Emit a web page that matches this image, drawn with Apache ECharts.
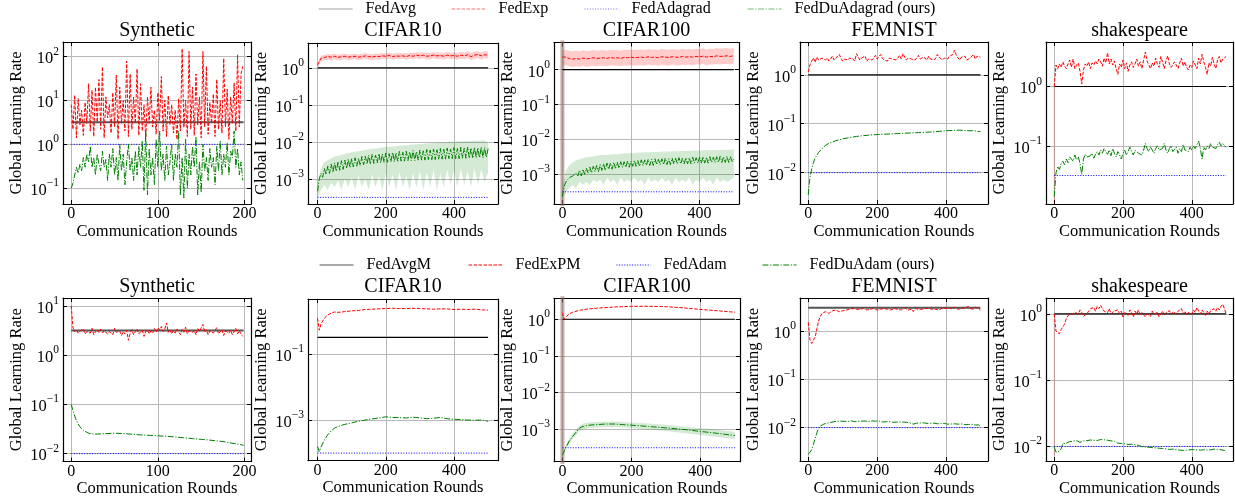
<!DOCTYPE html>
<html><head><meta charset="utf-8">
<script src="https://cdn.jsdelivr.net/npm/echarts@6/dist/echarts.min.js"></script>
<style>html,body{margin:0;padding:0;background:#fff}#c{width:1235px;height:504px}</style>
</head><body><div id="c"></div>
<script>
// ================= DATA =================
const titles = ['Synthetic','CIFAR10','CIFAR100','FEMNIST','shakespeare','Synthetic','CIFAR10','CIFAR100','FEMNIST','shakespeare'];
const namesTop = ['FedAvg','FedExp','FedAdagrad','FedDuAdagrad (ours)'];
const namesBottom = ['FedAvgM','FedExPM','FedAdam','FedDuAdam (ours)'];
const lastRound = [199, 500, 500, 500, 500, 199, 500, 500, 500, 500];
// constant-rate methods (per panel)
const avgRate = [3.16, 1, 1, 1, 1, 3.16, 0.316, 1, 3.0, 1];
const adaRate = [1, 0.000316, 0.000316, 0.01, 0.0316, 0.01, 0.0001, 0.000316, 0.01, 0.01];

// --- Synthetic (top), every 2 rounds
const synA_exp = [8,2.2,13,1.4,11,2.8,6,1.6,9,3, 24,2,17,1.5,20,3.2,30,2.2,58,1.4, 12,4,8,1.8,15,2.5,38,1.3,20,3,
 10,2,78,1.5,40,2.2,12,3,52,1.6, 24,2,8,1.4,12,3,20,2.5,6,1.7, 15,3.5,35,2,10,1.5,13,2.8,8,1.8,
 6,1.3,11,2,150,2.4,10,1.5,130,2.2, 20,1.6,40,2.8,12,1.4,130,2.5,60,1.7, 9,3,14,1.5,30,2.2,10,1.8,90,2.5,
 18,1.3,12,3,25,2,110,2.5,40,60];
const synA_du = [0.1,0.13,0.2,0.3,0.22,0.35,0.25,0.5,0.3,0.6, 0.4,0.9,0.3,0.5,0.2,0.6,0.35,0.25,0.7,0.3,
 0.45,0.15,0.6,0.3,0.8,0.2,0.5,0.15,1.0,0.25, 0.6,0.12,0.4,1.0,0.25,0.5,0.15,0.7,0.2,0.9,
 0.3,1.2,0.09,2.0,0.07,0.8,0.2,0.5,0.12,1.3, 0.3,2.0,0.25,0.6,0.15,0.9,0.2,0.4,1.0,0.15,
 0.6,0.3,2.0,0.07,0.5,0.06,1.3,0.1,0.6,0.2, 0.9,0.3,1.5,0.07,0.4,0.08,1.0,0.25,0.5,0.15,
 0.8,0.3,0.5,0.12,0.9,0.25,1.2,0.2,0.6,0.3, 1.1,0.2,0.7,0.5,2.0,0.3,0.8,0.2,0.4,0.15];

// --- CIFAR10 (top): FedExp every 10 rounds, FedDuAdagrad every 5 rounds, bands every 10
const c10A_exp = [1.2,1.8,1.9,2.0,1.95,2.05,1.9,2.0,2.05,1.95, 2.0,2.05,1.95,2.0,2.1,2.0,1.95,2.05,2.0,2.1,
 2.05,2.15,2.0,2.1,2.05,2.1,2.0,2.15,2.05,2.2, 2.1,2.2,2.05,2.1,2.2,2.1,2.15,2.05,2.2,2.1,
 2.15,2.05,2.2,2.1,2.25,2.0,2.2,2.3,2.1,2.25, 2.2];
const c10A_expLo = [1.0,1.5,1.6,1.65,1.6,1.7,1.6,1.65,1.7,1.6, 1.65,1.7,1.6,1.65,1.75,1.65,1.6,1.7,1.65,1.75,
 1.7,1.75,1.65,1.7,1.7,1.75,1.65,1.75,1.7,1.8, 1.7,1.8,1.65,1.7,1.8,1.7,1.75,1.65,1.8,1.7,
 1.75,1.65,1.75,1.7,1.8,1.6,1.75,1.8,1.65,1.8, 1.75];
const c10A_expHi = [1.4,2.1,2.2,2.35,2.3,2.4,2.25,2.35,2.4,2.3, 2.35,2.4,2.3,2.4,2.5,2.4,2.35,2.45,2.4,2.5,
 2.45,2.55,2.4,2.5,2.45,2.5,2.45,2.6,2.5,2.65, 2.55,2.65,2.5,2.55,2.65,2.55,2.6,2.5,2.7,2.55,
 2.6,2.5,2.7,2.6,2.8,2.5,2.75,2.85,2.6,2.8, 2.75];
const c10A_du = [0.00046,0.0010,0.0014,0.0011,0.0019,0.0013,0.0022,0.0014,0.0025,0.0015,
 0.0027,0.0016,0.0029,0.0017,0.0031,0.0018,0.0032,0.0019,0.0034,0.0020,
 0.0035,0.0021,0.0037,0.0022,0.0036,0.0023,0.0040,0.0024,0.0041,0.0025,
 0.0043,0.0025,0.0046,0.0026,0.0044,0.0027,0.0048,0.0027,0.0047,0.0028,
 0.0050,0.0028,0.0048,0.0029,0.0052,0.0029,0.0050,0.0030,0.0055,0.0030,
 0.0052,0.0030,0.0056,0.0031,0.0054,0.0031,0.0058,0.0031,0.0055,0.0032,
 0.0060,0.0032,0.0057,0.0032,0.0062,0.0033,0.0060,0.0033,0.0064,0.0033,
 0.0061,0.0034,0.0066,0.0034,0.0063,0.0034,0.0068,0.0035,0.0064,0.0035,
 0.0070,0.0035,0.0066,0.0035,0.0071,0.0036,0.0067,0.0036,0.0072,0.0036,
 0.0068,0.0036,0.0071,0.0037,0.0069,0.0037,0.0072,0.0037,0.0070,0.0038, 0.0066];
const c10A_duLo = [0.0003,0.0005,0.0007,0.0005,0.0008,0.0006,0.0009,0.0005,0.0010,0.0006,
 0.0011,0.0005,0.0012,0.0006,0.0010,0.0005,0.0013,0.0006,0.0012,0.0005,
 0.0014,0.0006,0.0013,0.0005,0.0015,0.0006,0.0012,0.0005,0.0014,0.0006,
 0.0016,0.0005,0.0015,0.0006,0.0017,0.0005,0.0014,0.0006,0.0018,0.0007,
 0.0017,0.0006,0.0019,0.0007,0.0016,0.0006,0.0019,0.0007,0.0018,0.0008, 0.0015];
const c10A_duHi = [0.0007,0.0020,0.0028,0.0032,0.0036,0.0040,0.0042,0.0045,0.0047,0.0050,
 0.0052,0.0055,0.0056,0.0058,0.0060,0.0063,0.0064,0.0066,0.0068,0.0070,
 0.0072,0.0073,0.0075,0.0076,0.0078,0.0080,0.0081,0.0083,0.0084,0.0086,
 0.0088,0.0089,0.0090,0.0092,0.0093,0.0095,0.0096,0.0097,0.0098,0.0100,
 0.0101,0.0102,0.0103,0.0104,0.0105,0.0106,0.0107,0.0107,0.0108,0.0108, 0.0095];

// --- CIFAR100 (top)
const c100A_exp = [2.3,2.3,2.1,2.0,2.1,2.0,2.15,2.05,2.1,2.2, 2.1,2.15,2.2,2.1,2.25,2.15,2.2,2.1,2.25,2.2,
 2.3,2.2,2.25,2.3,2.2,2.35,2.25,2.3,2.2,2.35, 2.3,2.25,2.35,2.3,2.25,2.4,2.3,2.35,2.3,2.4,
 2.35,2.45,2.3,2.4,2.35,2.5,2.4,2.45,2.5,2.4, 2.55];
const c100A_expLo = [1.35,1.35,1.25,1.2,1.25,1.2,1.3,1.2,1.25,1.3, 1.25,1.3,1.3,1.25,1.35,1.3,1.3,1.25,1.35,1.3,
 1.35,1.3,1.35,1.35,1.3,1.4,1.35,1.35,1.3,1.4, 1.35,1.3,1.4,1.35,1.3,1.4,1.35,1.4,1.35,1.4,
 1.4,1.45,1.35,1.4,1.4,1.45,1.4,1.45,1.45,1.4, 1.5];
const c100A_expHi = [3.6,3.7,3.5,3.4,3.5,3.4,3.6,3.45,3.5,3.7, 3.5,3.6,3.7,3.5,3.75,3.6,3.7,3.5,3.75,3.7,
 3.8,3.7,3.75,3.8,3.7,3.9,3.75,3.8,3.7,3.9, 3.8,3.75,3.9,3.8,3.75,4.0,3.8,3.9,3.8,4.0,
 3.9,4.1,3.8,4.0,3.9,4.2,4.0,4.1,4.2,4.0, 4.3];
const c100A_du = [0.00023,0.00045,0.0006,0.0007,0.0008,0.00075,0.0009,0.0008,0.0011,0.0009,
 0.0013,0.0009,0.0014,0.0010,0.0015,0.0011,0.0016,0.0011,0.0017,0.0012,
 0.0018,0.0012,0.0019,0.0013,0.0020,0.0013,0.0021,0.0014,0.0021,0.0014,
 0.0022,0.0015,0.0022,0.0015,0.0023,0.0016,0.0023,0.0016,0.0024,0.0016,
 0.0024,0.0017,0.0025,0.0017,0.0025,0.0017,0.0026,0.0018,0.0026,0.0018,
 0.0027,0.0018,0.0027,0.0018,0.0028,0.0019,0.0027,0.0019,0.0028,0.0019,
 0.0029,0.0019,0.0028,0.0019,0.0029,0.0020,0.0029,0.0020,0.0030,0.0020,
 0.0029,0.0020,0.0030,0.0020,0.0030,0.0020,0.0031,0.0021,0.0030,0.0021,
 0.0031,0.0021,0.0032,0.0021,0.0031,0.0021,0.0032,0.0022,0.0031,0.0022,
 0.0032,0.0022,0.0033,0.0022,0.0032,0.0022,0.0033,0.0022,0.0032,0.0023, 0.0027];
const c100A_duLo = [0.0002,0.0003,0.0004,0.0005,0.0004,0.0006,0.0005,0.0006,0.0005,0.0007,
 0.0006,0.0007,0.0005,0.0008,0.0006,0.0007,0.0005,0.0008,0.0006,0.0007,
 0.0006,0.0008,0.0006,0.0007,0.0005,0.0008,0.0006,0.0007,0.0006,0.0008,
 0.0006,0.0007,0.0005,0.0008,0.0006,0.0007,0.0006,0.0008,0.0005,0.0007,
 0.0006,0.0008,0.0006,0.0007,0.0005,0.0008,0.0006,0.0007,0.0006,0.0007, 0.0008];
const c100A_duHi = [0.0004,0.0013,0.0018,0.0022,0.0025,0.0027,0.0029,0.0031,0.0032,0.0033,
 0.0034,0.0035,0.0036,0.0036,0.0037,0.0038,0.0038,0.0039,0.0040,0.0040,
 0.0041,0.0041,0.0042,0.0042,0.0043,0.0043,0.0044,0.0044,0.0044,0.0045,
 0.0045,0.0045,0.0046,0.0046,0.0046,0.0047,0.0047,0.0047,0.0048,0.0048,
 0.0048,0.0049,0.0049,0.0049,0.0050,0.0050,0.0050,0.0051,0.0051,0.0051, 0.0052];
const c100A_round0 = [0.00001, 100];

// --- FEMNIST (top): FedExp every 5 rounds
const femA_exp = [1.15,1.6,1.9,2.2,1.8,2.3,2.0,1.9,2.2,2.4, 2.0,2.2,1.9,2.1,2.4,2.0,2.2,2.1,2.6,2.2,
 1.9,2.1,2.3,2.0,2.2,2.4,2.1,1.9,2.7,2.3, 2.0,2.2,2.1,2.4,1.9,2.1,2.3,2.0,2.2,2.5,
 2.1,2.3,2.6,2.2,2.0,2.1,1.9,2.2,2.4,2.1, 2.3,2.0,2.2,2.5,2.1,2.7,2.3,2.0,2.2,2.4,
 2.1,2.3,2.0,2.2,2.5,2.1,2.0,2.3,2.2,2.0, 2.4,2.1,2.3,2.0,2.2,2.6,2.3,2.1,2.0,2.2,
 2.3,2.1,2.4,2.2,2.6,3.2,2.5,2.2,2.0,2.3, 2.1,2.4,2.0,1.9,2.2,2.3,2.6,2.1,2.4,2.2, 2.3];
const femA_duX = [0,3,6,10,15,20,30,40,50,60,70,80,100,120,140,160,180,200,220,240,260,280,300,320,340,360,380,400,420,440,460,480,500];
const femA_du = [0.0035,0.006,0.009,0.012,0.016,0.02,0.026,0.031,0.036,0.040,0.042,0.045,0.049,0.052,0.055,0.057,0.059,0.060,
 0.061,0.062,0.063,0.064,0.065,0.066,0.067,0.068,0.070,0.072,0.073,0.074,0.072,0.072,0.069];

// --- shakespeare (top): every 5 rounds
const shA_exp = [1.0,2.3,2.0,2.4,2.1,2.6,2.2,2.0,2.4,2.8, 2.1,2.9,2.0,2.3,2.5,1.8,1.1,1.9,2.4,2.2,
 2.6,2.0,2.5,2.3,2.7,2.4,2.9,2.6,2.2,3.0, 2.5,3.7,2.4,2.9,2.3,2.7,2.0,1.6,2.4,2.1,
 2.8,2.0,2.5,1.8,2.3,2.6,2.1,2.4,2.9,2.2, 2.6,2.0,2.8,3.8,2.7,2.3,2.0,2.5,2.2,3.0,
 2.4,2.1,3.2,2.6,2.0,2.7,3.3,2.4,2.1,2.0, 2.6,2.3,2.0,2.5,3.0,2.2,2.6,2.1,1.9,2.3,
 2.1,2.7,2.3,2.0,3.0,2.4,3.5,2.6,2.1,1.6, 2.5,2.2,3.1,2.4,2.0,2.8,3.2,2.5,2.9,3.0, 3.2];
const shA_du = [0.014,0.035,0.045,0.04,0.05,0.055,0.048,0.06,0.052,0.065, 0.06,0.055,0.07,0.058,0.065,0.05,0.033,0.06,0.072,0.065,
 0.07,0.068,0.075,0.062,0.072,0.08,0.07,0.085,0.075,0.09, 0.08,0.072,0.085,0.068,0.09,0.075,0.065,0.08,0.07,0.06,
 0.075,0.085,0.07,0.08,0.095,0.08,0.07,0.085,0.09,0.075, 0.08,0.07,0.085,0.11,0.09,0.08,0.095,0.085,0.075,0.09,
 0.1,0.085,0.08,0.09,0.11,0.085,0.075,0.09,0.1,0.08, 0.085,0.095,0.075,0.09,0.08,0.105,0.085,0.09,0.08,0.095,
 0.085,0.1,0.09,0.085,0.12,0.09,0.06,0.095,0.085,0.1, 0.09,0.11,0.095,0.1,0.09,0.105,0.115,0.1,0.11,0.1, 0.095];
const shA_round0 = [0.005, 1.0];

// --- Synthetic (bottom): FedExPM every 2 rounds
const synB_exp = [10,3.6,3.0,3.3,2.8,3.1,2.9,3.4,2.7,3.0, 3.2,2.8,3.5,2.6,3.0,3.3,2.9,3.4,2.8,3.1,
 3.3,2.7,3.0,3.2,2.6,3.5,2.9,2.8,3.1,2.5, 3.0,2.7,3.2,2.0,2.8,3.3,2.6,3.0,3.4,2.7,
 2.9,3.2,2.4,3.0,3.3,2.7,3.1,2.8,3.5,2.9, 3.6,3.2,3.8,3.0,3.4,4.5,2.9,3.3,2.7,3.2,
 2.8,3.4,3.0,2.6,3.3,2.9,3.7,2.7,3.1,3.4, 2.9,3.2,2.6,3.5,3.0,2.8,4.2,2.9,3.3,2.6,
 3.1,3.4,2.8,3.2,3.6,2.7,3.0,3.3,2.5,3.1, 3.4,2.8,3.2,2.6,3.0,3.5,2.7,3.1,3.3,2.4];
const synB_duX = [0,2,4,6,8,10,15,20,25,30,40,50,60,70,80,90,100,110,120,130,140,150,160,170,180,190,199];
const synB_du = [0.1,0.075,0.058,0.047,0.04,0.035,0.029,0.026,0.025,0.025,0.0255,0.026,0.0255,0.0248,0.024,0.0235,0.023,
 0.0225,0.0218,0.021,0.0202,0.0195,0.0188,0.018,0.017,0.0158,0.0148];

// --- CIFAR10 (bottom)
const c10B_x = [0,5,10,20,30,40,50,60,80,100,120,140,160,180,200,220,240,260,280,300,320,340,360,380,400,420,440,460,480,500];
const c10B_exp = [1.2,0.52,0.8,1.2,1.5,1.7,1.85,1.8,1.9,2.0,2.05,2.2,2.25,2.3,2.35,2.4,2.35,2.35,2.4,2.35,
 2.3,2.25,2.3,2.3,2.2,2.25,2.2,2.25,2.15,2.1];
const c10B_du = [0.00016,0.00011,0.00015,0.00025,0.00036,0.00047,0.00057,0.00064,0.00074,0.00082,0.00092,0.001,0.00108,
 0.00115,0.00125,0.0012,0.00118,0.00115,0.00122,0.00116,0.0011,0.00113,0.0012,0.0011,0.00105,0.00103,0.001,0.00098,0.001,0.00092];

// --- CIFAR100 (bottom)
const c100B_expX = [0,5,10,20,30,50,75,100,150,200,250,300,350,400,450,500];
const c100B_exp = [1.5,1.0,1.15,1.4,1.55,1.75,1.9,2.0,2.15,2.25,2.25,2.2,2.05,1.85,1.7,1.55];
const c100B_duX = [0,10,20,30,40,50,60,75,100,125,150,175,200,250,300,350,400,450,500];
const c100B_du = [0.0002,0.00033,0.00048,0.00065,0.00085,0.0011,0.0012,0.0013,0.00135,0.0014,0.0014,0.00135,0.0013,0.0012,0.0011,0.001,0.00088,0.00078,0.00068];
const c100B_duLo = [0.00018,0.00028,0.0004,0.00055,0.0007,0.0009,0.001,0.00108,0.00112,0.00115,0.00115,0.00112,0.00108,0.001,0.0009,0.0008,0.0007,0.00062,0.00054];
const c100B_duHi = [0.00022,0.00038,0.00057,0.00078,0.001,0.0013,0.00145,0.00155,0.0016,0.00165,0.00165,0.0016,0.00155,0.00145,0.00133,0.0012,0.00108,0.00097,0.00086];
const c100B_round0 = [0.00001, 100];

// --- FEMNIST (bottom): every 5 rounds
const femB_exp = [1.5,0.65,0.55,0.56,0.75,1.1,1.6,2.0,2.3,2.4, 2.5,2.4,2.3,2.5,2.6,2.5,2.7,2.6,2.5,2.7,
 2.6,2.8,2.7,2.6,2.8,2.7,2.9,2.7,2.8,2.6, 2.8,2.7,2.9,2.8,2.7,2.9,2.8,2.7,2.9,2.8,
 2.7,2.9,2.8,2.6,2.9,2.7,2.8,3.0,2.7,2.8, 2.9,2.7,2.8,2.9,2.7,2.8,3.0,2.8,2.7,2.9,
 2.8,2.5,2.9,2.7,2.8,3.0,2.8,2.7,2.9,2.8, 2.9,2.7,2.8,3.0,2.8,2.9,2.7,2.9,3.0,2.8,
 2.9,2.8,3.0,2.9,2.8,3.1,2.9,2.8,3.0,2.9, 2.8,3.0,2.9,3.2,2.9,3.0,2.8,3.1,3.0,2.9, 2.7];
const femB_du = [0.0028,0.0031,0.0035,0.0045,0.006,0.0078,0.0098,0.0108,0.0112,0.0118,
 0.012,0.0124,0.0126,0.0128,0.013,0.0133,0.0131,0.0135,0.0133,0.0136,
 0.0138,0.0135,0.0137,0.0134,0.0136,0.0138,0.0135,0.0133,0.0137,0.0135,
 0.0138,0.0136,0.0134,0.0137,0.0135,0.0133,0.0136,0.0138,0.0141,0.0136,
 0.0134,0.0137,0.0133,0.0131,0.0135,0.0132,0.013,0.0134,0.0131,0.0129,
 0.0132,0.013,0.0127,0.0131,0.0128,0.013,0.0126,0.0129,0.0127,0.0125,
 0.0128,0.0118,0.0126,0.0124,0.0127,0.0125,0.0123,0.0126,0.0124,0.0122,
 0.0125,0.0123,0.0121,0.0124,0.0122,0.012,0.0123,0.0121,0.0119,0.0122,
 0.012,0.0118,0.0121,0.0119,0.0117,0.012,0.0112,0.0118,0.0116,0.0119,
 0.0117,0.0115,0.0118,0.0116,0.0114,0.0117,0.0115,0.0113,0.0116,0.0114, 0.0108];

// --- shakespeare (bottom): every 5 rounds
const shB_exp = [1.0,0.55,0.52,0.5,0.58,0.62,0.7,0.85,0.95,0.93, 0.98,1.0,1.05,1.1,1.0,1.15,1.05,0.92,0.88,1.0,
 1.1,1.2,1.15,1.25,1.1,1.3,1.2,1.35,1.2,1.1, 1.15,1.05,1.2,1.0,0.95,1.1,1.05,1.15,1.0,1.1,
 0.9,1.05,1.1,0.95,1.15,1.05,0.9,1.1,1.0,1.15, 0.95,1.05,1.1,0.9,1.0,1.05,0.92,1.1,1.0,0.95,
 1.05,0.9,1.0,1.1,0.95,1.05,1.0,1.12,0.98,1.08, 1.15,1.0,1.1,1.05,1.2,1.0,1.1,0.95,1.05,1.1,
 1.0,1.15,1.05,1.25,1.1,1.0,1.15,1.05,0.95,1.1, 1.0,1.12,1.05,1.2,1.1,1.25,1.15,1.3,1.4,1.2, 1.0];
const shB_du = [0.0098,0.0082,0.0078,0.0085,0.0092,0.011,0.0105,0.0112,0.0115,0.0118,
 0.0116,0.012,0.0118,0.0122,0.012,0.0115,0.0118,0.0121,0.0124,0.0122,
 0.0123,0.0125,0.0121,0.0124,0.0126,0.0123,0.0125,0.0127,0.0124,0.0126,
 0.0122,0.0124,0.0119,0.0121,0.0117,0.012,0.0116,0.0112,0.0115,0.0111,
 0.0113,0.0109,0.0112,0.0107,0.0104,0.0108,0.0103,0.0106,0.0101,0.0104,
 0.0102,0.0099,0.0103,0.0098,0.0101,0.0097,0.01,0.0096,0.0099,0.0095,
 0.0098,0.0094,0.0097,0.0093,0.0096,0.0092,0.0095,0.009,0.0094,0.0091,
 0.0093,0.0089,0.0092,0.0088,0.0091,0.0087,0.009,0.0088,0.0092,0.0089,
 0.0087,0.009,0.0086,0.0089,0.0085,0.0088,0.0084,0.0089,0.0086,0.0088,
 0.0085,0.0089,0.0086,0.0091,0.0087,0.009,0.0086,0.0089,0.0092,0.0087, 0.008];
const shB_round0 = [0.007, 1.0];

// ================= LAYOUT =================
const FONT = 'Liberation Serif';
const layout = [
  {left:63,  top:42,  width:188, height:162,  x:[-9.5,207.5], y:[-1.36,2.33], xt:100, step:1, off:0},
  {left:308, top:43,  width:190, height:161,  x:[-28,529],    y:[-3.68,0.67], xt:200, step:1, off:0},
  {left:554, top:42.5,width:185, height:161.5,x:[-24.5,515],  y:[-3.85,0.78], xt:200, step:1, off:0},
  {left:800, top:42,  width:188, height:162,  x:[-24,522],    y:[-2.64,0.67], xt:200, step:1, off:0},
  {left:1046,top:42,  width:187, height:162,  x:[-24,520],    y:[-1.98,0.75], xt:200, step:1, off:0},
  {left:63,  top:298, width:188, height:163.5,x:[-9.5,207.5], y:[-2.16,1.16], xt:100, step:1, off:0},
  {left:308, top:299, width:190, height:161.7,x:[-28,529],    y:[-4.23,0.66], xt:200, step:2, off:1},
  {left:554, top:298.3,width:186,height:163.4,x:[-24.5,515],  y:[-3.88,0.57], xt:200, step:1, off:0},
  {left:800, top:298, width:188, height:163,  x:[-24,522],    y:[-2.69,0.68], xt:200, step:1, off:0},
  {left:1046,top:298, width:187, height:163,  x:[-24,520],    y:[-2.22,0.24], xt:200, step:1, off:0}
];
const COL = {avg:'#000000', exp:'#ff0000', ada:'#0000ff', du:'#008000'};
const DASH = {exp:[3.5,1.5], ada:[1,1.6], du:[6,1.6,1.2,1.6]};

// ================= BUILD =================
const grids=[], xAxes=[], yAxes=[], series=[], titleOpts=[];
const lg = (p, v) => Math.log10(v) - p.off;

layout.forEach((p, i) => {
  grids.push({left:p.left, top:p.top, width:p.width, height:p.height, outerBoundsMode:'none', show:false});
  titleOpts.push({text:titles[i], left:p.left + p.width/2, top:(i<5?21:277), textAlign:'center', padding:0,
    textStyle:{fontFamily:FONT, fontSize:20, fontWeight:'normal', color:'#000'}});
  const xBase = {type:'value', gridIndex:i, min:p.x[0], max:p.x[1], minInterval:p.xt, maxInterval:p.xt,
    axisLine:{show:true, onZero:false, lineStyle:{color:'#000', width:1.2}},
    axisTick:{show:true, inside:true, length:4, lineStyle:{color:'#000'}}};
  xAxes.push(Object.assign({}, xBase, {position:'bottom',
    name:'Communication Rounds', nameLocation:'middle', nameGap:18,
    nameTextStyle:{fontFamily:FONT, fontSize:16.5, color:'#000'},
    axisLabel:{show:true, margin:2, fontFamily:FONT, fontSize:16, color:'#000',
      formatter: v => Math.abs(v/p.xt - Math.round(v/p.xt)) < 1e-6 ? String(Math.round(v)) : ''},
    splitLine:{show:true, showMinLine:false, showMaxLine:false, lineStyle:{color:'#b8b8b8', width:1}}}));
  xAxes.push(Object.assign({}, xBase, {position:'top', axisLabel:{show:false}, splitLine:{show:false}}));
  const yBase = {type:'value', gridIndex:i, min:p.y[0]-p.off, max:p.y[1]-p.off, minInterval:p.step, maxInterval:p.step,
    axisLine:{show:true, onZero:false, lineStyle:{color:'#000', width:1.2}},
    axisTick:{show:true, inside:true, length:4, lineStyle:{color:'#000'}}};
  yAxes.push(Object.assign({}, yBase, {position:'left',
    name:'Global Learning Rate', nameLocation:'middle', nameGap:38,
    nameTextStyle:{fontFamily:FONT, fontSize:16.5, color:'#000'},
    axisLabel:{show:true, margin:4, color:'#000',
      formatter: v => {
        if (Math.abs(v/p.step - Math.round(v/p.step)) > 1e-6) return '';
        const e = Math.round(v + p.off);
        return '{b|10}{s|' + (e < 0 ? '\u2212' + (-e) : e) + '}';
      },
      rich:{b:{fontFamily:FONT, fontSize:16.5, color:'#000', verticalAlign:'bottom', lineHeight:22},
            s:{fontFamily:FONT, fontSize:11.5, color:'#000', verticalAlign:'top', lineHeight:12}}},
    splitLine:{show:true, showMinLine:false, showMaxLine:false, lineStyle:{color:'#b8b8b8', width:1}}}));
  yAxes.push(Object.assign({}, yBase, {position:'right', axisLabel:{show:false}, splitLine:{show:false}}));
});

function line(i, name, xs, vals, key, extra) {
  const p = layout[i];
  const st = Object.assign({color:COL[key], width:1, type: key==='avg' ? 'solid' : DASH[key]}, extra||{});
  series.push({type:'line', name, xAxisIndex:2*i, yAxisIndex:2*i, symbol:'none', showSymbol:false,
    silent:true, animation:false, clip:true, lineStyle:st, itemStyle:{color:st.color}, z:3,
    data: vals.map((v,k)=>[xs[k], lg(p,v)])});
}
function stepXs(arr, step){ return arr.map((_,k)=>k*step); }
// shaded spread band drawn as one polygon through the axis scales
function band(i, xs, lo, hi, color) {
  const p = layout[i];
  const pts = xs.map((x,k)=>[x, lg(p,lo[k]), lg(p,hi[k])]);
  series.push({type:'custom', name:'_band', xAxisIndex:2*i, yAxisIndex:2*i, silent:true, animation:false, clip:true, z:2,
    data: pts, encode:{x:0, y:[1,2]},
    renderItem: (params, api) => {
      if (params.dataIndex !== 0) return null;
      const upper = pts.map(d => api.coord([d[0], d[2]]));
      const lower = pts.map(d => api.coord([d[0], d[1]])).reverse();
      return {type:'polygon', shape:{points: upper.concat(lower)}, style:{fill: color}};
    }});
}
function vbar(i, range, color, width) {
  const p = layout[i];
  series.push({type:'line', name:'_r0', xAxisIndex:2*i, yAxisIndex:2*i, symbol:'none', silent:true, animation:false,
    lineStyle:{color, width}, z:2, data: range.map(v=>[0, lg(p,v)])});
}
function flats(i, names) {
  const r = [0, lastRound[i]];
  const grey = (i===0 || i===5 || i===8);
  line(i, names[0], r, [avgRate[i], avgRate[i]], 'avg', grey ? {color:'#555', width:2} : {width:1.2});
}

const RB = 'rgba(255,0,0,0.2)', GB = 'rgba(0,128,0,0.17)';
// Panel 0
flats(0, namesTop);
line(0, namesTop[1], stepXs(synA_exp,2), synA_exp, 'exp');
line(0, namesTop[2], [0,199], [adaRate[0],adaRate[0]], 'ada');
line(0, namesTop[3], stepXs(synA_du,2), synA_du, 'du');
// Panel 1
band(1, stepXs(c10A_expLo,10), c10A_expLo, c10A_expHi, RB);
band(1, stepXs(c10A_duLo,10), c10A_duLo, c10A_duHi, GB);
flats(1, namesTop);
line(1, namesTop[1], stepXs(c10A_exp,10), c10A_exp, 'exp');
line(1, namesTop[2], [0,500], [adaRate[1],adaRate[1]], 'ada');
line(1, namesTop[3], stepXs(c10A_du,5), c10A_du, 'du');
// Panel 2
band(2, stepXs(c100A_expLo,10), c100A_expLo, c100A_expHi, RB);
band(2, stepXs(c100A_duLo,10), c100A_duLo, c100A_duHi, GB);
vbar(2, c100A_round0, 'rgba(150,110,100,0.55)', 4);
flats(2, namesTop);
line(2, namesTop[1], stepXs(c100A_exp,10), c100A_exp, 'exp');
line(2, namesTop[2], [0,500], [adaRate[2],adaRate[2]], 'ada');
line(2, namesTop[3], stepXs(c100A_du,5), c100A_du, 'du');
// Panel 3
flats(3, namesTop);
line(3, namesTop[1], stepXs(femA_exp,5), femA_exp, 'exp');
line(3, namesTop[2], [0,500], [adaRate[3],adaRate[3]], 'ada');
line(3, namesTop[3], femA_duX, femA_du, 'du');
// Panel 4
vbar(4, shA_round0, 'rgba(255,0,0,0.18)', 1.5);
flats(4, namesTop);
line(4, namesTop[1], stepXs(shA_exp,5), shA_exp, 'exp');
line(4, namesTop[2], [0,500], [adaRate[4],adaRate[4]], 'ada');
line(4, namesTop[3], stepXs(shA_du,5), shA_du, 'du');
// Panel 5
flats(5, namesBottom);
line(5, namesBottom[1], stepXs(synB_exp,2), synB_exp, 'exp');
line(5, namesBottom[2], [0,199], [adaRate[5],adaRate[5]], 'ada');
line(5, namesBottom[3], synB_duX, synB_du, 'du');
// Panel 6
flats(6, namesBottom);
line(6, namesBottom[1], c10B_x, c10B_exp, 'exp');
line(6, namesBottom[2], [0,500], [adaRate[6],adaRate[6]], 'ada');
line(6, namesBottom[3], c10B_x, c10B_du, 'du');
// Panel 7
band(7, c100B_duX, c100B_duLo, c100B_duHi, GB);
vbar(7, c100B_round0, 'rgba(150,110,100,0.55)', 4);
flats(7, namesBottom);
line(7, namesBottom[1], c100B_expX, c100B_exp, 'exp');
line(7, namesBottom[2], [0,500], [adaRate[7],adaRate[7]], 'ada');
line(7, namesBottom[3], c100B_duX, c100B_du, 'du');
// Panel 8
flats(8, namesBottom);
line(8, namesBottom[1], stepXs(femB_exp,5), femB_exp, 'exp');
line(8, namesBottom[2], [0,500], [adaRate[8],adaRate[8]], 'ada');
line(8, namesBottom[3], stepXs(femB_du,5), femB_du, 'du');
// Panel 9
vbar(9, shB_round0, 'rgba(255,0,0,0.15)', 1.5);
flats(9, namesBottom);
line(9, namesBottom[1], stepXs(shB_exp,5), shB_exp, 'exp');
line(9, namesBottom[2], [0,500], [adaRate[9],adaRate[9]], 'ada');
line(9, namesBottom[3], stepXs(shB_du,5), shB_du, 'du');

// legends
const legendPos = [
  {name:namesTop[0], left:318, top:1, faded:true}, {name:namesTop[1], left:451, top:1, faded:true},
  {name:namesTop[2], left:584, top:1, faded:true}, {name:namesTop[3], left:747, top:1, faded:true},
  {name:namesBottom[0], left:319, top:257}, {name:namesBottom[1], left:468, top:257},
  {name:namesBottom[2], left:616, top:257}, {name:namesBottom[3], left:762, top:257}
];
const legends = legendPos.map(l => ({
  data:[l.name], left:l.left, top:l.top, padding:0, itemWidth:34, itemHeight:14, selectedMode:false,
  itemStyle:{opacity:0},
  lineStyle: l.faded ? {opacity:0.55, width:1.2} : {width:1},
  textStyle:{fontFamily:FONT, fontSize:16, color:'#000', padding:[0,0,0,8]}
}));

const chart = echarts.init(document.getElementById('c'), null, {renderer:'canvas'});
chart.setOption({
  animation:false, backgroundColor:'#fff',
  title:titleOpts, legend:legends, grid:grids, xAxis:xAxes, yAxis:yAxes, series
});
</script></body></html>
